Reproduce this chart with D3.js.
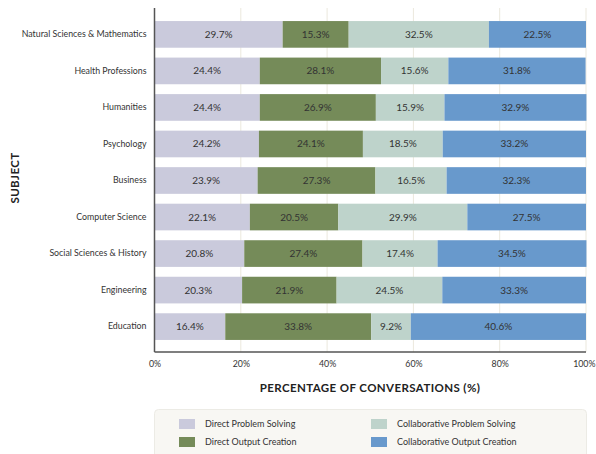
<!DOCTYPE html>
<html>
<head>
<meta charset="utf-8">
<script src="https://cdn.jsdelivr.net/npm/d3@7/dist/d3.min.js"></script>
<style>
  html, body { margin: 0; padding: 0; background: #ffffff; }
  svg { display: block; font-family: "Lato", "Inter", sans-serif; }
</style>
</head>
<body>
<svg id="chart" width="596" height="454"></svg>
<script>
// Subjects, top to bottom
const subjects = [
  "Natural Sciences & Mathematics",
  "Health Professions",
  "Humanities",
  "Psychology",
  "Business",
  "Computer Science",
  "Social Sciences & History",
  "Engineering",
  "Education"
];

// Share of conversations (%) per interaction style
const directProblemSolving        = [29.7, 24.4, 24.4, 24.2, 23.9, 22.1, 20.8, 20.3, 16.4];
const directOutputCreation        = [15.3, 28.1, 26.9, 24.1, 27.3, 20.5, 27.4, 21.9, 33.8];
const collaborativeProblemSolving = [32.5, 15.6, 15.9, 18.5, 16.5, 29.9, 17.4, 24.5, 9.2];
const collaborativeOutputCreation = [22.5, 31.8, 32.9, 33.2, 32.3, 27.5, 34.5, 33.3, 40.6];

const seriesNames = [
  "Direct Problem Solving",
  "Direct Output Creation",
  "Collaborative Problem Solving",
  "Collaborative Output Creation"
];
const seriesColors = ["#cacadc", "#758b59", "#bed3cb", "#6899cc"];

const xTicks = [0, 20, 40, 60, 80, 100];

const rows = subjects.map((s, i) => ({
  subject: s,
  "Direct Problem Solving": directProblemSolving[i],
  "Direct Output Creation": directOutputCreation[i],
  "Collaborative Problem Solving": collaborativeProblemSolving[i],
  "Collaborative Output Creation": collaborativeOutputCreation[i]
}));

const svg = d3.select("#chart");
const plot = { left: 154.5, right: 586, top: 8, bottom: 352 };

const x = d3.scaleLinear().domain([0, 100]).range([plot.left, plot.right]);
const y = d3.scaleBand().domain(subjects).range([plot.top + 1, plot.bottom])
  .paddingInner(0.27).paddingOuter(0.33);
const color = d3.scaleOrdinal().domain(seriesNames).range(seriesColors);

// vertical gridlines
svg.append("g")
  .selectAll("line")
  .data(xTicks.filter(t => t > 0))
  .join("line")
  .attr("x1", d => x(d)).attr("x2", d => x(d))
  .attr("y1", plot.top).attr("y2", plot.bottom)
  .attr("stroke", "#ebe8dd").attr("stroke-width", 1);

// stacked bars
const stacked = d3.stack().keys(seriesNames)(rows);
const layers = svg.append("g").selectAll("g")
  .data(stacked)
  .join("g")
  .attr("fill", d => color(d.key));

layers.selectAll("rect")
  .data(d => d.map(v => ({ key: d.key, v })))
  .join("rect")
  .attr("x", d => x(d.v[0]))
  .attr("width", d => x(d.v[1]) - x(d.v[0]))
  .attr("y", d => y(d.v.data.subject))
  .attr("height", y.bandwidth());

// value labels
layers.selectAll("text")
  .data(d => d.map(v => ({ key: d.key, v })))
  .join("text")
  .attr("x", d => (x(d.v[0]) + x(d.v[1])) / 2)
  .attr("y", d => y(d.v.data.subject) + y.bandwidth() / 2)
  .attr("dy", "0.35em")
  .attr("text-anchor", "middle")
  .attr("fill", "#333333")
  .attr("font-size", 10)
  .text(d => (d.v[1] - d.v[0]).toFixed(1) + "%");

// y axis
const yAxis = svg.append("g")
  .attr("transform", `translate(${plot.left},0)`)
  .call(d3.axisLeft(y).tickSize(0).tickPadding(8));
yAxis.select(".domain").remove();
yAxis.selectAll("text").attr("font-size", 8.8).attr("fill", "#333333")
  .attr("font-family", "Lato, sans-serif");

// x axis
const xAxis = svg.append("g")
  .attr("transform", `translate(0,${plot.bottom})`)
  .call(d3.axisBottom(x).tickValues(xTicks).tickSize(0).tickPadding(9).tickFormat(d => d + "%"));
xAxis.select(".domain").remove();
xAxis.selectAll("text").attr("font-size", 8.8).attr("fill", "#333333")
  .attr("font-family", "Lato, sans-serif");
// keep the last tick label inside the canvas edge
xAxis.selectAll(".tick").filter(d => d === 100).select("text")
  .attr("text-anchor", "end").attr("x", 595 - x(100));

// axis lines
svg.append("line")
  .attr("x1", plot.left).attr("x2", plot.left)
  .attr("y1", plot.top).attr("y2", plot.bottom)
  .attr("stroke", "#555555").attr("stroke-width", 1.5);
svg.append("line")
  .attr("x1", plot.left).attr("x2", plot.right)
  .attr("y1", plot.bottom).attr("y2", plot.bottom)
  .attr("stroke", "#555555").attr("stroke-width", 1.5);

// axis titles
svg.append("text")
  .attr("x", 370).attr("y", 392)
  .attr("text-anchor", "middle")
  .attr("font-size", 11.5).attr("font-weight", "bold")
  .attr("fill", "#222222")
  .attr("letter-spacing", 0.4)
  .text("PERCENTAGE OF CONVERSATIONS (%)");

svg.append("text")
  .attr("transform", "translate(19,178) rotate(-90)")
  .attr("text-anchor", "middle")
  .attr("font-size", 11.5).attr("font-weight", "bold")
  .attr("fill", "#222222")
  .attr("letter-spacing", 0.4)
  .text("SUBJECT");

// legend
const legend = svg.append("g");
legend.append("rect")
  .attr("x", 154.5).attr("y", 409.5)
  .attr("width", 432).attr("height", 60)
  .attr("rx", 4)
  .attr("fill", "#f8f7f3").attr("stroke", "#ecebe5");

const legendPos = [
  { cx: 179, cy: 424 },
  { cx: 179, cy: 442 },
  { cx: 371, cy: 424 },
  { cx: 371, cy: 442 }
];
const items = legend.selectAll("g.item")
  .data(seriesNames)
  .join("g")
  .attr("class", "item")
  .attr("transform", (d, i) => `translate(${legendPos[i].cx},${legendPos[i].cy})`);
items.append("rect")
  .attr("x", 0).attr("y", -5)
  .attr("width", 16).attr("height", 10)
  .attr("fill", d => color(d));
items.append("text")
  .attr("x", 26).attr("y", 0).attr("dy", "0.35em")
  .attr("font-size", 9).attr("fill", "#333333")
  .text(d => d);
</script>
</body>
</html>
